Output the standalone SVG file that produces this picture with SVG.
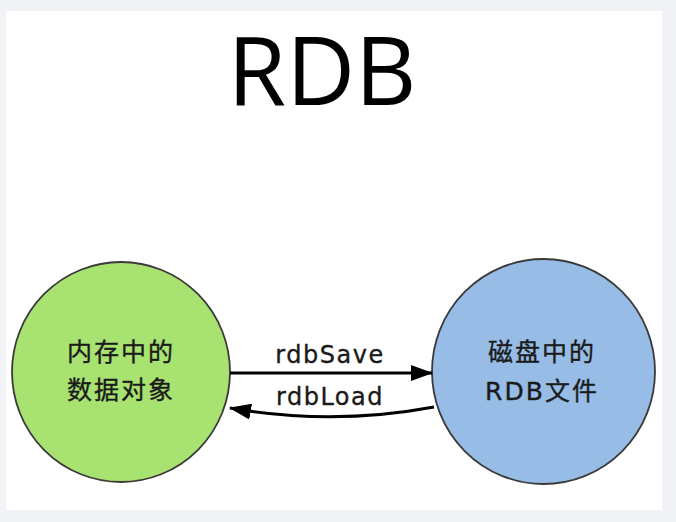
<svg xmlns="http://www.w3.org/2000/svg" width="676" height="522" viewBox="0 0 676 522">
<style>
.node{stroke:#3a3a3a;stroke-width:1.8}
.lbl{font-family:"DejaVu Sans","Noto Sans CJK SC",sans-serif;font-size:25px;fill:#1a1a1a;stroke:#1a1a1a;stroke-width:0.35;text-anchor:middle;letter-spacing:2px}
.edge{font-family:"DejaVu Sans",sans-serif;font-size:24px;fill:#1a1a1a;stroke:#1a1a1a;stroke-width:0.35;text-anchor:middle;letter-spacing:1.5px}
.conn{fill:none;stroke:#000;stroke-width:3}
</style>
<defs>
<marker id="ah" viewBox="0 0 22 16" refX="21" refY="8" markerWidth="22" markerHeight="16" markerUnits="userSpaceOnUse" orient="auto">
<path d="M0,0 L22,8 L0,16 Z" fill="#000"/>
</marker>
</defs>
<rect x="0" y="0" width="676" height="522" fill="#f2f3f7"/>
<rect x="6" y="11" width="656" height="499" fill="#fff"/>
<text x="322" y="105" font-family="Open Sans, DejaVu Sans, sans-serif" font-size="95" fill="#000" text-anchor="middle">RDB</text>
<g id="memory">
<ellipse class="node" cx="121" cy="372" rx="109" ry="110" fill="#a8e270"/>
<text class="lbl" x="121" y="361">内存中的</text>
<text class="lbl" x="121" y="399">数据对象</text>
</g>
<g id="disk">
<ellipse class="node" cx="543.5" cy="371.5" rx="111.5" ry="112.5" fill="#97bde6"/>
<text class="lbl" x="542" y="361">磁盘中的</text>
<text class="lbl" x="542" y="400">RDB文件</text>
</g>
<g id="connectors">
<path class="conn" d="M230,373 L432,373" marker-end="url(#ah)"/>
<path class="conn" d="M434,407 Q332,426 230,408" marker-end="url(#ah)"/>
<text class="edge" x="330" y="363">rdbSave</text>
<text class="edge" x="330" y="405">rdbLoad</text>
</g>
</svg>
